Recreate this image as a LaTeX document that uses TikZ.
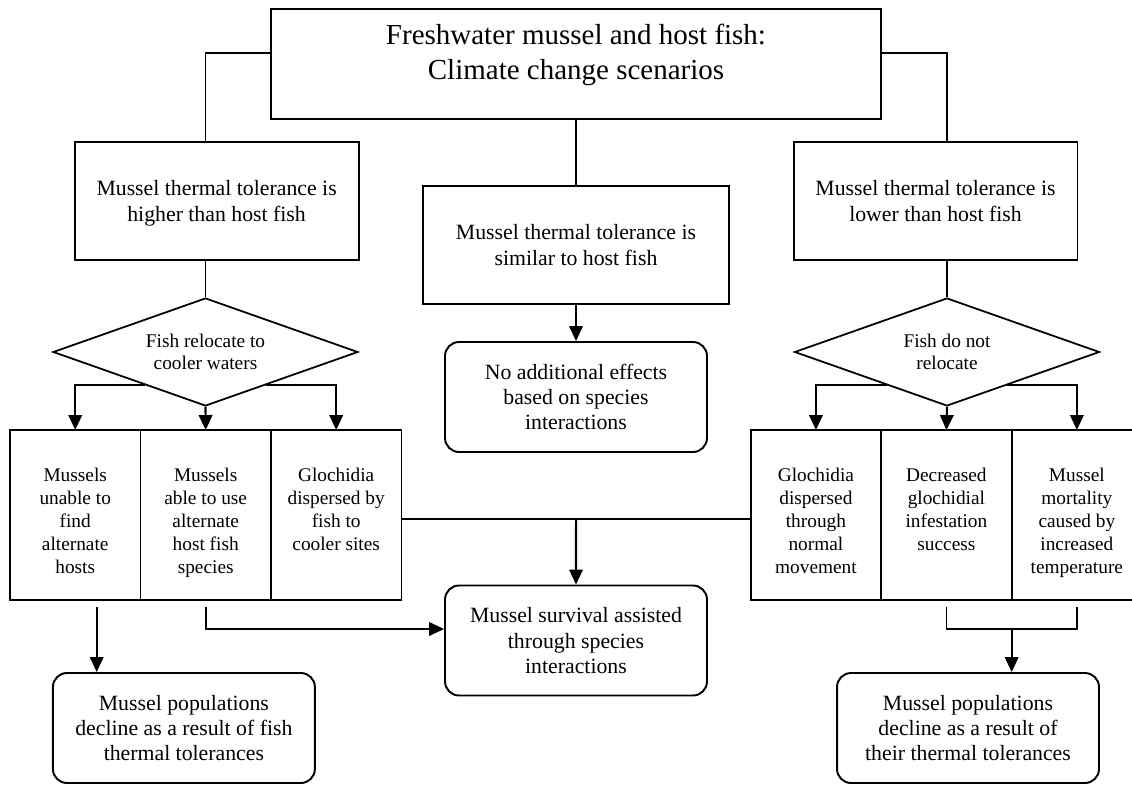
\documentclass[tikz,border=0pt]{standalone}
\usepackage{fontspec}
\setmainfont{Liberation Serif}
\usetikzlibrary{arrows.meta,positioning,shapes.geometric,calc}

\begin{document}
\begin{tikzpicture}[x=0.02cm,y=-0.02cm,
	box/.style={draw,line width=1.1pt,align=center,inner sep=0pt,text depth=0pt,
		font=\fontsize{12.4}{14.3}\selectfont},
	tolbox/.style={box,minimum height=2.36cm,text depth=-0.16cm},
	endbox/.style={box,rounded corners=0.28cm,minimum width=5.24cm,minimum height=2.2cm},
	col/.style={draw,line width=1pt,inner sep=0pt,outer sep=0pt,
		minimum width=2.61cm,minimum height=3.4cm},
	coltext/.style={align=center,inner sep=0pt,font=\fontsize{11}{13.1}\selectfont},
	choice/.style={draw,diamond,aspect=2.82,line width=1pt,inner sep=0pt,align=center,
		minimum width=6.1cm,minimum height=2.16cm,font=\fontsize{11}{12.4}\selectfont},
	link/.style={line width=0.8pt},
	arr/.style={line width=1.2pt,-{Triangle[length=0.3cm,width=0.27cm]}}
]
	\clip (0,0) rectangle (1132,784);

	% scenarios
	\node[box,minimum width=12.2cm,minimum height=2.2cm] (title) at (576,64) {};
	\node[align=center,font=\fontsize{16.5}{19.9}\selectfont] (titletext) at (576,55)
		{Freshwater mussel and host fish:\\Climate change scenarios};
	\node[tolbox,minimum width=5.68cm] (ltol) at (216.6,201)
		{Mussel thermal tolerance is\\higher than host fish};
	\node[tolbox,minimum width=6.12cm] (mtol) at (576,245)
		{Mussel thermal tolerance is\\similar to host fish};
	\node[tolbox,minimum width=5.68cm] (rtol) at (935.5,201)
		{Mussel thermal tolerance is\\lower than host fish};

	% fish response
	\node[choice] (ldec) at (205.5,352) {Fish relocate to\\cooler waters};
	\node[choice] (rdec) at (947,352) {Fish do not\\relocate};
	\node[endbox] (noeff) at (576,397) {No additional effects\\based on species\\interactions};

	% outcomes
	\node[col] (c2) at (205.7,515) {};
	\node[col,left=0pt of c2] (c1) {};
	\node[col,right=0pt of c2] (c3) {};
	\node[col] (c5) at (946.4,515) {};
	\node[col,left=0pt of c5] (c4) {};
	\node[col,right=0pt of c5] (c6) {};
	\node[coltext,below=0.76cm of c1.north] (c1text) {Mussels\\unable to\\find\\alternate\\hosts};
	\node[coltext,below=0.76cm of c2.north] (c2text) {Mussels\\able to use\\alternate\\host fish\\species};
	\node[coltext,below=0.76cm of c3.north] (c3text) {Glochidia\\dispersed by\\fish to\\cooler sites};
	\node[coltext,below=0.76cm of c4.north] (c4text) {Glochidia\\dispersed\\through\\normal\\movement};
	\node[coltext,below=0.76cm of c5.north] (c5text) {Decreased\\glochidial\\infestation\\success};
	\node[coltext,below=0.76cm of c6.north] (c6text) {Mussel\\mortality\\caused by\\increased\\temperature};

	\node[endbox] (survive) at (576,640.5) {Mussel survival assisted\\through species\\interactions};
	\node[endbox] (lpop) at (183.9,728) {Mussel populations\\decline as a result of fish\\thermal tolerances};
	\node[endbox] (rpop) at (968,728) {Mussel populations\\decline as a result of\\their thermal tolerances};

	% connectors
	\draw[link] ([yshift=0.22cm]title.west) -| (ltol.north -| ldec.north);
	\draw[link] ([yshift=0.22cm]title.east) -| (rtol.north -| rdec.north);
	\draw[link] (title.south) -- (mtol.north);
	\draw[arr] (mtol.south) -- (noeff.north);
	\draw[link] (ltol.south -| ldec.north) -- (ldec.north);
	\draw[link] (rtol.south -| rdec.north) -- (rdec.north);

	\draw[arr] (ldec.209) -| (c1.north);
	\draw[arr] (ldec.south) -- (c2.north);
	\draw[arr] (ldec.331) -| (c3.north);
	\draw[arr] (rdec.209) -| (c4.north);
	\draw[arr] (rdec.south) -- (c5.north);
	\draw[arr] (rdec.331) -| (c6.north);

	\coordinate (join) at ($(c3.east)!0.5!(c4.west)+(0,4)$);
	\draw[link] (c3.east |- join) -- (c4.west |- join);
	\draw[arr] (join) -- (survive.north);

	\coordinate (ldown) at ([xshift=0.43cm,yshift=-0.14cm]c1.south);
	\draw[arr] (ldown) -- (ldown |- lpop.north);
	\coordinate (mdown) at ([yshift=-0.14cm]c2.south);
	\draw[arr] (mdown) |- ([yshift=0.23cm]survive.west);

	\coordinate (ra) at ([yshift=-0.14cm]c5.south);
	\coordinate (rb) at ([yshift=-0.14cm]c6.south);
	\draw[link] (ra) -- ++(0,22) -| (rb);
	\coordinate (rjoin) at ($(ra)!0.5!(rb)+(0,22)$);
	\draw[arr] (rjoin) -- (rjoin |- rpop.north);
\end{tikzpicture}
\end{document}
